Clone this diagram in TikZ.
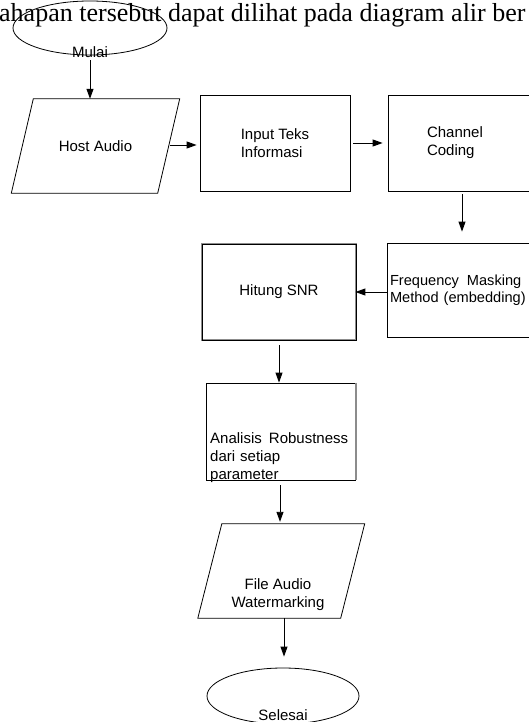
\documentclass[tikz,border=0pt]{standalone}
\usepackage{fontspec}
\setmainfont{Liberation Serif}
\newfontfamily\arialf{Liberation Sans}
\usetikzlibrary{arrows.meta,shapes.geometric,calc}
\tikzset{
  lbl/.style={font=\arialf\fontsize{15}{18}\selectfont, inner sep=0pt},
  box/.style={draw, line width=0.8pt, inner sep=0pt, lbl},
  term/.style={draw, ellipse, line width=0.8pt, inner sep=0pt},
  arr/.style={line width=0.9pt, -{Triangle[length=10pt,width=7pt]}},
  shadowbox/.style={box, preaction={draw=black!45, line width=2.6pt}},
}
\begin{document}
\begin{tikzpicture}[x=1pt,y=-1pt]
\useasboundingbox (0,0) rectangle (528,722);
% top text line
\node[anchor=base west, inner sep=0pt, font=\fontsize{26}{30}\selectfont] (para) at (-1,22) {ahapan tersebut dapat dilihat pada diagram alir ber};
% start
\node[term, minimum width=154pt, minimum height=54pt] (mulai) at (90,28) {};
\node[lbl, anchor=base] (mulait) at (90,58) {Mulai};
% host audio (parallelogram)
\node[lbl, minimum width=146pt, minimum height=94pt] (host) at (95.5,146) {Host Audio};
\draw[line width=0.8pt] ($(host.north west)+(11,0)$) -- ($(host.north east)+(11,0)$) -- ($(host.south east)+(-11,0)$) -- ($(host.south west)+(-11,0)$) -- cycle;
% input teks
\node[box, minimum width=150pt, minimum height=96pt, align=left] (input) at (275,143) {Input Teks\\Informasi};
% channel coding
\node[box, minimum width=144pt, minimum height=96pt, text width=66pt, inner xsep=39pt, align=left] (chan) at (460,143) {Channel\\Coding};
% frequency masking
\node[box, minimum width=145pt, minimum height=94pt, text width=139pt, inner xsep=2pt, align=left, font=\arialf\fontsize{14.6}{17}\selectfont] (freq) at (459.5,290) {\mbox{Frequency\hspace{8pt}Masking}\\\mbox{Method\hspace{5pt}(embedding)}};
% hitung snr
\node[shadowbox, minimum width=154pt, minimum height=96pt] (snr) at (279,292) {Hitung SNR};
% analisis
\node[box, minimum width=149pt, minimum height=97pt] (anal) at (280.5,431.5) {};
\draw[black!45, line width=2pt] ([xshift=1pt]anal.north east) -- ([xshift=1pt]anal.south east);
\node[lbl, anchor=north west, text width=138pt, align=left] (analt) at (210,432.5) {Analisis\hfill Robustness\\dari setiap\\parameter};
% file audio watermarking (parallelogram)
\node[minimum width=142.5pt, minimum height=94pt, inner sep=0pt] (fa) at (281.25,571) {};
\draw[line width=0.8pt] ($(fa.north west)+(12,0)$) -- ($(fa.north east)+(12,0)$) -- ($(fa.south east)+(-12,0)$) -- ($(fa.south west)+(-12,0)$) -- cycle;
\node[lbl, align=center] (fat) at (278,595) {File Audio\\Watermarking};
% end
\node[term, minimum width=152pt, minimum height=56pt] (selesai) at (283,696) {};
\node[lbl, anchor=base] (selesait) at (283,720) {Selesai};
% connectors
\coordinate (ha) at ($(mulai.south)+(0,5)$);
\draw[arr] (ha) -- (host.north -| ha);
\draw[arr, shorten >=3pt] ($(host.east)+(1,-1)$) -- (input.west |- 0,145);
\draw[arr, shorten <=3pt, shorten >=5pt] (input.east) -- (chan.west);
\draw[arr, shorten <=3pt, shorten >=11pt] (chan.south -| 462,0) -- (freq.north -| 462,0);
\draw[arr, shorten >=-1pt] (freq.west |- 0,292) -- (snr.east |- 0,292);
\draw[arr, shorten <=5pt] (snr.south -| 279,0) -- (anal.north -| 279,0);
\draw[arr, shorten <=5pt, shorten >=2pt] (anal.south -| 280,0) -- (fa.north -| 280,0);
\draw[arr, shorten >=11pt] (fa.south -| 284,0) -- (selesai.north -| 284,0);
\end{tikzpicture}
\end{document}
